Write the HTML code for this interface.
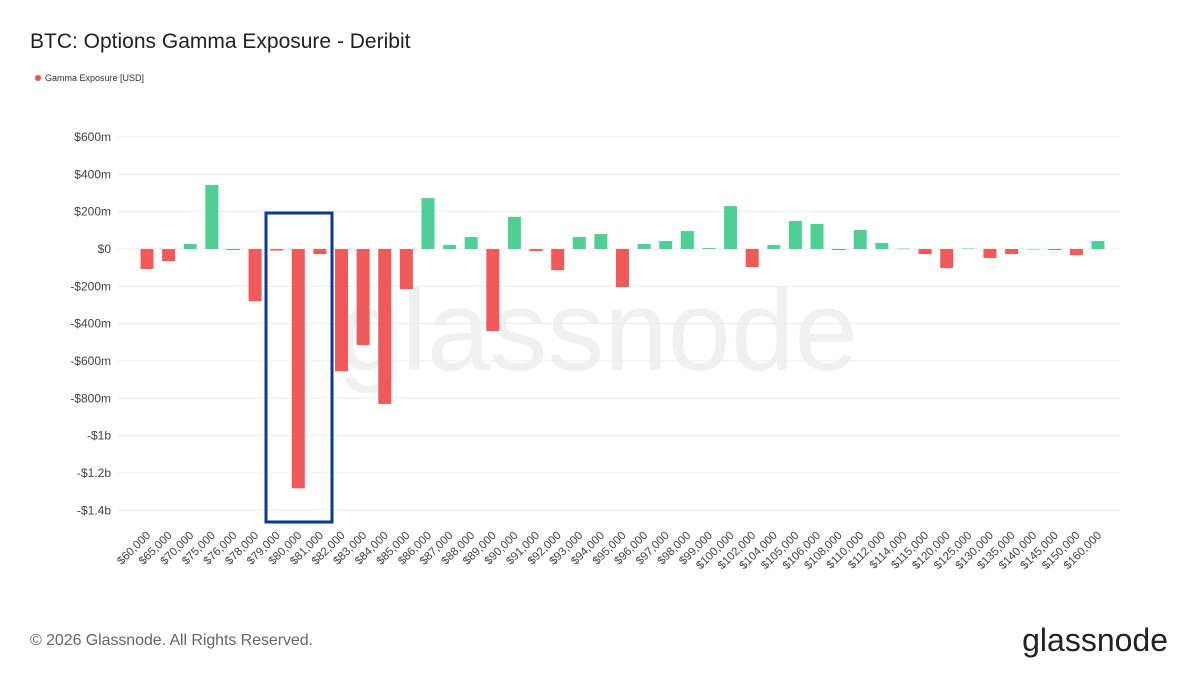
<!DOCTYPE html>
<html><head><meta charset="utf-8"><style>
body{margin:0;background:#fff;font-family:"Liberation Sans",sans-serif;}
#wrap{position:relative;width:1200px;height:675px;overflow:hidden;}
</style></head><body>
<div id="wrap">
<svg id="chart" width="1200" height="675">
<text x="30" y="48" font-size="21" fill="#222">BTC: Options Gamma Exposure - Deribit</text>
<circle cx="38" cy="78" r="3" fill="#ef5350"/>
<text x="45" y="81" font-size="9" fill="#333">Gamma Exposure [USD]</text>
<text x="598" y="370" font-size="114" fill="#f0f0f0" text-anchor="middle">glassnode</text>
<g id="grid"></g><g id="bars"></g><g id="xl"></g>
<rect x="266" y="213" width="66" height="309" fill="none" stroke="#0d3a8c" stroke-width="3"/>
<text x="30" y="645" font-size="16" fill="#666" textLength="283">© 2026 Glassnode. All Rights Reserved.</text>
<text x="1168" y="651" font-size="32" fill="#222" text-anchor="end">glassnode</text>
</svg></div>
<script>
const categories=["$60,000","$65,000","$70,000","$75,000","$76,000","$78,000","$79,000","$80,000","$81,000","$82,000","$83,000","$84,000","$85,000","$86,000","$87,000","$88,000","$89,000","$90,000","$91,000","$92,000","$93,000","$94,000","$95,000","$96,000","$97,000","$98,000","$99,000","$100,000","$102,000","$104,000","$105,000","$106,000","$108,000","$110,000","$112,000","$114,000","$115,000","$120,000","$125,000","$130,000","$135,000","$140,000","$145,000","$150,000","$160,000"];
const values=[-107,-65,27,343,-5,-280,-8,-1282,-27,-655,-515,-830,-215,273,21,64,-440,172,-11,-113,64,80,-204,27,43,96,5,230,-97,21,150,134,-5,102,32,2,-27,-102,3,-48,-27,0,-5,-32,43];
const tickValues=[600,400,200,0,-200,-400,-600,-800,-1000,-1200,-1400];
const tickLabels=["$600m","$400m","$200m","$0","-$200m","-$400m","-$600m","-$800m","-$1b","-$1.2b","-$1.4b"];
const NS="http://www.w3.org/2000/svg";
const y=v=>249-v*(112/600);
const x=i=>147+i*(951/44);
const grid=document.getElementById('grid'),bars=document.getElementById('bars'),xl=document.getElementById('xl');
tickValues.forEach((t,k)=>{
 const l=document.createElementNS(NS,'line');
 l.setAttribute('x1',118);l.setAttribute('x2',1120);l.setAttribute('y1',y(t));l.setAttribute('y2',y(t));
 l.setAttribute('stroke','#ececec');
 
 
 grid.appendChild(l);
 const tx=document.createElementNS(NS,'text');
 tx.setAttribute('x',111);tx.setAttribute('y',y(t)+4);tx.setAttribute('text-anchor','end');
 tx.setAttribute('font-size','12');tx.setAttribute('fill','#444');tx.textContent=tickLabels[k];
 
 
 grid.appendChild(tx);
});
values.forEach((v,i)=>{
 const r=document.createElementNS(NS,'rect');
 r.setAttribute('x',x(i)-6.5);r.setAttribute('width',13);
 r.setAttribute('y',Math.min(y(v),y(0)));r.setAttribute('height',Math.max(Math.abs(y(v)-y(0)),0.5));
 r.setAttribute('fill',v>=0?'#4fcf95':'#f05a5a');
 
 
 bars.appendChild(r);
 const t=document.createElementNS(NS,'text');
 t.setAttribute('transform',`translate(${x(i)+4},${536}) rotate(-45)`);
 t.setAttribute('text-anchor','end');t.setAttribute('font-size','11.5');t.setAttribute('fill','#444');
 t.textContent=categories[i];
 
 
 xl.appendChild(t);
});
</script>
</body></html>
